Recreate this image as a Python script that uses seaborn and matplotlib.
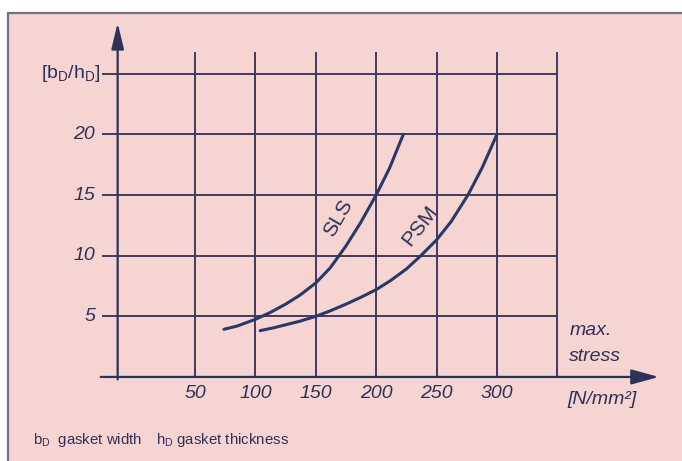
import seaborn as sns
import matplotlib.pyplot as plt
import pandas as pd
from matplotlib.patches import Rectangle

# curve data: max. stress [N/mm2] vs. bD/hD
stress_sls = [74, 85, 100, 112, 125, 137, 150, 162, 175, 187, 200, 211, 222.5]
ratio_sls = [3.93, 4.2, 4.75, 5.3, 6.0, 6.75, 7.75, 9.0, 10.8, 12.7, 15.0, 17.2, 20.0]
stress_psm = [104, 115, 125, 137, 150, 162, 175, 187, 200, 212, 225, 237, 250, 262, 276, 288, 300]
ratio_psm = [3.82, 4.05, 4.3, 4.6, 5.0, 5.45, 6.0, 6.55, 7.2, 7.95, 8.9, 10.0, 11.3, 12.8, 15.0, 17.3, 20.0]

x_ticks = [50, 100, 150, 200, 250, 300]
x_grid = [50, 100, 150, 200, 250, 300, 350]
y_ticks = [5, 10, 15, 20]
y_grid = [5, 10, 15, 20, 25]

pink = '#F6D4D1'
navy = '#2F3258'
grid_c = '#43395E'
curve_c = '#273A66'

sns.set_theme(style='white')
plt.rcParams['font.family'] = ['Liberation Sans', 'DejaVu Sans']
plt.rcParams['mathtext.fontset'] = 'custom'
plt.rcParams['mathtext.rm'] = 'Liberation Sans'
plt.rcParams['mathtext.it'] = 'Liberation Sans:italic'

df = pd.DataFrame({
    'stress': stress_sls + stress_psm,
    'ratio': ratio_sls + ratio_psm,
    'type': ['SLS'] * len(stress_sls) + ['PSM'] * len(stress_psm),
})

fig = plt.figure(figsize=(6.82, 4.61), dpi=100, facecolor='white')
ax = fig.add_axes([0, 0, 1, 1])
ax.set_xlim(-111.4, 453.2)
ax.set_ylim(-6.93, 31.08)
ax.axis('off')

# pink page with left/top border
ax.add_patch(Rectangle((8 / 682, 0), 1 - 8 / 682, (461 - 13) / 461, transform=ax.transAxes,
                       fc=pink, ec='none', zorder=0))
ax.plot([8 / 682, 8 / 682], [0, (461 - 13) / 461], transform=ax.transAxes, color='#77708A', lw=1.6)
ax.plot([8 / 682, 1], [(461 - 13) / 461] * 2, transform=ax.transAxes, color='#77708A', lw=1.6)

# grid
ax.hlines(y_grid, -27, 350, color=grid_c, lw=1.4, zorder=1)
ax.vlines(x_grid, 0, 26.8, color=grid_c, lw=1.4, zorder=1)

# axes with arrows
ax.annotate('', xy=(434, 0), xytext=(-28, 0),
            arrowprops=dict(arrowstyle='-|>,head_length=1.2,head_width=0.33', lw=1.6,
                            color=navy, mutation_scale=14, shrinkA=0, shrinkB=0))
ax.annotate('', xy=(-14, 29.2), xytext=(-14, -0.2),
            arrowprops=dict(arrowstyle='-|>,head_length=1.13,head_width=0.27', lw=1.6,
                            color=navy, mutation_scale=14, shrinkA=0, shrinkB=0))

# curves
sns.lineplot(data=df, x='stress', y='ratio', hue='type', sort=False,
             palette={'SLS': curve_c, 'PSM': curve_c}, lw=2.2, legend=False, ax=ax, zorder=3,
             solid_joinstyle='round')

ax.text(168.6, 13.1, 'SLS', rotation=60, ha='center', va='center', fontsize=15, color=navy)
ax.text(236.3, 12.5, 'PSM', rotation=52, ha='center', va='center', fontsize=15, color=navy)

# tick labels
for t in x_ticks:
    ax.text(t, -1.35, str(t), ha='center', va='center', fontsize=14, style='italic', color=navy)
for t in y_ticks:
    ax.text(-32.5, t, str(t), ha='right', va='center', fontsize=14, style='italic', color=navy)

ax.text(-28.5, 25, r'[b$_\mathrm{D}$/h$_\mathrm{D}$]', ha='right', va='center', fontsize=14, color=navy)
ax.text(360, 3.8, 'max.', ha='left', va='center', fontsize=14, style='italic', color=navy)
ax.text(360, 1.7, 'stress', ha='left', va='center', fontsize=14, style='italic', color=navy)
ax.text(358, -1.9, '[N/mm²]', ha='left', va='center', fontsize=14, style='italic', color=navy)

ax.text(-84, -5.2, r'b$_\mathrm{D}$  gasket width', ha='left', va='center', fontsize=10.8, color=navy)
ax.text(18, -5.2, r'h$_\mathrm{D}$ gasket thickness', ha='left', va='center', fontsize=10.8, color=navy)

plt.savefig('out.png', dpi=100)
